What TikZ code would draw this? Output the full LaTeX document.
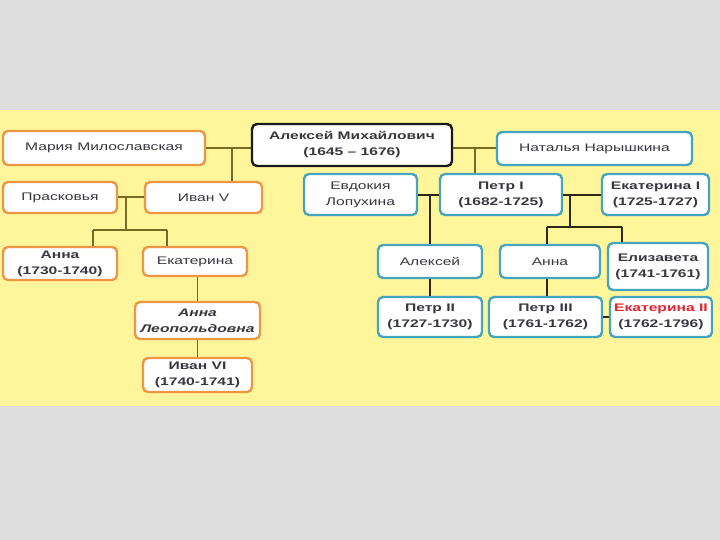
\documentclass[tikz,border=0pt]{standalone}
\usepackage{fontspec}
\setmainfont[FakeStretch=1.42]{Liberation Sans}
\usepackage{xcolor}
\usepackage{tikz}
\usetikzlibrary{calc}
\definecolor{pagegrey}{RGB}{222,222,222}
\definecolor{bandyellow}{RGB}{255,245,155}
\definecolor{famorange}{RGB}{238,150,70}
\definecolor{famteal}{RGB}{70,165,190}
\definecolor{famdark}{RGB}{25,25,25}
\definecolor{inkgrey}{RGB}{55,55,65}
\definecolor{tsarred}{RGB}{225,35,50}
\definecolor{oliveline}{RGB}{120,105,35}
\definecolor{darkline}{RGB}{45,40,20}
\tikzset{
  box/.style={
    draw,
    rounded corners=5pt,
    fill=white,
    line width=2.4pt,
    align=center,
    inner sep=2pt,
    text=inkgrey,
    font=\fontsize{11}{16}\selectfont
  },
  orangebox/.style={box, draw=famorange},
  tealbox/.style={box, draw=famteal},
  blackbox/.style={box, draw=famdark},
  strong/.style={font=\fontsize{11}{16}\selectfont\bfseries},
  link/.style={line width=1.6pt, draw=oliveline},
  linkdark/.style={line width=1.6pt, draw=darkline}
}

\begin{document}
\begin{tikzpicture}[x=1pt,y=-1pt]
\useasboundingbox (0,0) rectangle (720,540);
\fill[pagegrey] (0,0) rectangle (720,540);
\fill[bandyellow] (0,110) rectangle (720,406);

% first row
\node[orangebox,minimum width=202pt,minimum height=34pt] (maria) at (104,148) {Мария Милославская};
\node[blackbox,strong,minimum width=200pt,minimum height=42pt] (aleksej) at (352,145) {Алексей Михайлович\\(1645 – 1676)};
\node[tealbox,minimum width=195pt,minimum height=33pt] (natalja) at (594.5,148.5) {Наталья Нарышкина};

% second row
\node[orangebox,minimum width=114pt,minimum height=31pt] (praskovja) at (60,197.5) {Прасковья};
\node[orangebox,minimum width=117pt,minimum height=31pt] (ivanV) at (203.5,197.5) {Иван V};
\node[tealbox,minimum width=113pt,minimum height=41pt] (evdokija) at (360.5,194.5) {Евдокия\\Лопухина};
\node[tealbox,strong,minimum width=122pt,minimum height=41pt] (petrI) at (501,194.5) {Петр I\\(1682-1725)};
\node[tealbox,strong,minimum width=107pt,minimum height=41pt] (ekatI) at (655.5,194.5) {Екатерина I\\(1725-1727)};

% third row
\node[orangebox,strong,minimum width=114pt,minimum height=33pt] (annaI) at (60,263.5) {Анна\\(1730-1740)};
\node[orangebox,minimum width=104pt,minimum height=29pt] (ekaterina) at (195,261.5) {Екатерина};
\node[tealbox,minimum width=104pt,minimum height=33pt] (aleksejP) at (430,261.5) {Алексей};
\node[tealbox,minimum width=100pt,minimum height=33pt] (annaP) at (550,261.5) {Анна};
\node[tealbox,strong,minimum width=100pt,minimum height=47pt] (elizaveta) at (658,266.5) {Елизавета\\(1741-1761)};

% fourth row
\node[orangebox,strong,minimum width=125pt,minimum height=37pt] (annaL) at (197.5,320.5) {\itshape Анна\\\itshape Леопольдовна};
\node[tealbox,strong,minimum width=104pt,minimum height=40pt] (petrII) at (430,317) {Петр II\\(1727-1730)};
\node[tealbox,strong,minimum width=113pt,minimum height=40pt] (petrIII) at (545.5,317) {Петр III\\(1761-1762)};
\node[tealbox,strong,minimum width=102pt,minimum height=40pt] (ekatII) at (661,317) {\textcolor{tsarred}{Екатерина II}\\(1762-1796)};

% fifth row
\node[orangebox,strong,minimum width=109pt,minimum height=34pt] (ivanVI) at (197.5,375) {Иван VI\\(1740-1741)};

% marriages and children, left side
\coordinate (m1) at (232,148);
\draw[link] (maria.east |- m1) -- (aleksej.west |- m1);
\draw[link] (m1) -- (m1 |- ivanV.north);
\coordinate (m2) at (126,197);
\coordinate (c2) at (126,230);
\draw[link] (praskovja.east |- m2) -- (ivanV.west |- m2);
\draw[link] (m2) -- (c2);
\draw[link] (93,230) -- (167,230);
\draw[link] (93,230) -- (93,0 |- annaI.north);
\draw[link] (167,230) -- (167,0 |- ekaterina.north);
\draw[link] (ekaterina.south -| annaL.north) -- (annaL.north);
\draw[link] (annaL.south) -- (ivanVI.north);

% right side
\coordinate (m3) at (475,148);
\draw[link] (aleksej.east |- m3) -- (natalja.west |- m3);
\draw[link] (m3) -- (m3 |- petrI.north);
\coordinate (m4) at (430,195);
\draw[linkdark] (evdokija.east |- m4) -- (petrI.west |- m4);
\draw[linkdark] (m4) -- (aleksejP.north);
\draw[linkdark] (aleksejP.south) -- (petrII.north);
\coordinate (m5) at (570,195);
\coordinate (c5) at (570,227);
\draw[linkdark] (petrI.east |- m5) -- (ekatI.west |- m5);
\draw[linkdark] (m5) -- (c5);
\draw[linkdark] (547,227) -- (622,227);
\draw[linkdark] (547,227) -- (547,0 |- annaP.north);
\draw[linkdark] (622,227) -- (622,0 |- elizaveta.north);
\draw[linkdark] (annaP.south -| 547,0) -- (petrIII.north -| 547,0);
\draw[linkdark] (petrIII.east) -- (ekatII.west);
\end{tikzpicture}
\end{document}
